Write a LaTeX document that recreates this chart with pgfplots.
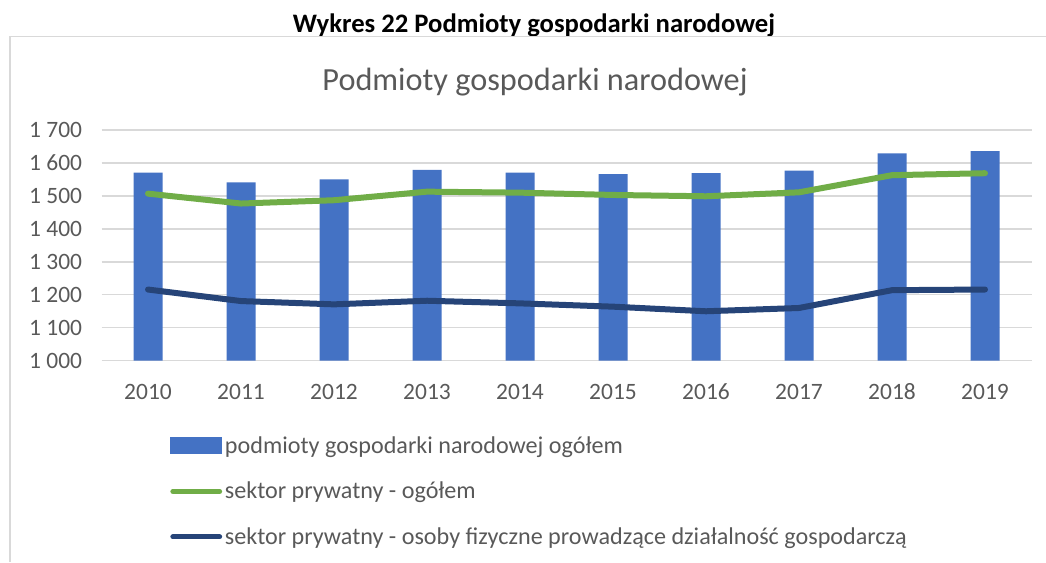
\documentclass[border=0pt]{standalone}
\usepackage{pgfplots}
\pgfplotsset{compat=1.18}
\usepackage{fontspec}
\setmainfont{Carlito}
\definecolor{barblue}{HTML}{4472C4}
\definecolor{lgreen}{HTML}{70AD47}
\definecolor{dblue}{HTML}{264478}
\definecolor{txt}{HTML}{595959}
\definecolor{gridc}{HTML}{D9D9D9}
\begin{document}
\begin{tikzpicture}
\useasboundingbox (0,0) rectangle (784.5pt,421.5pt);
\node[anchor=base, inner sep=0pt, font=\bfseries\fontsize{20pt}{22pt}\selectfont] at (400.5pt,396.75pt) {Wykres 22 Podmioty gospodarki narodowej};
\draw[gridc, line width=1pt] (7.5pt,0pt) -- (7.5pt,394.2pt) -- (790pt,394.2pt);
\node[text=txt, font=\fontsize{24.2pt}{28pt}\selectfont] at (401.25pt,360pt) {Podmioty gospodarki narodowej};
\begin{axis}[
  at={(76.125pt,150.975pt)}, anchor=south west,
  scale only axis, width=697.5pt, height=173pt,
  xmin=-0.5, xmax=9.5, ymin=1000, ymax=1700,
  axis line style={draw=none},
  major tick length=0pt,
  xtick={0,...,9},
  xticklabels={2010,2011,2012,2013,2014,2015,2016,2017,2018,2019},
  ytick={1000,1100,...,1700},
  yticklabels={1 000,1 100,1 200,1 300,1 400,1 500,1 600,1 700},
  ymajorgrids, grid style={gridc, line width=1pt},
  tick label style={text=txt, font=\fontsize{17.6pt}{20pt}\selectfont},
  yticklabel style={xshift=-11pt},
  xticklabel style={anchor=base, yshift=-28.9pt},
  legend style={at={(0.0737,-0.322)}, anchor=north west, draw=none, fill=none,
    inner sep=0pt, row sep=18pt, font=\fontsize{18.1pt}{20pt}\selectfont,
    text=txt, nodes={inner xsep=2pt, inner ysep=1pt}},
  legend cell align=left,
]
\addplot[ybar, bar width=21.75pt, fill=barblue, draw=none,
  legend image code/.code={\fill[barblue] (0pt,-6.4pt) rectangle (39pt,6.4pt);}]
  coordinates {(0,1571) (1,1541) (2,1550) (3,1579) (4,1571) (5,1566) (6,1569) (7,1577) (8,1629) (9,1636)};
\addlegendentry{podmioty gospodarki narodowej ogółem}
\addplot[lgreen, line width=4.5pt, line cap=round, line join=round, mark=none,
  legend image code/.code={\draw[lgreen, line width=3.75pt, line cap=round] (1.9pt,0pt) -- (37pt,0pt);}]
  coordinates {(0,1507) (1,1477) (2,1487) (3,1513) (4,1510) (5,1503) (6,1499) (7,1511) (8,1563) (9,1569)};
\addlegendentry{sektor prywatny - ogółem}
\addplot[dblue, line width=4.5pt, line cap=round, line join=round, mark=none,
  legend image code/.code={\draw[dblue, line width=3.75pt, line cap=round] (1.9pt,0pt) -- (37pt,0pt);}]
  coordinates {(0,1216) (1,1181) (2,1171) (3,1182) (4,1174) (5,1164) (6,1150) (7,1160) (8,1214) (9,1216)};
\addlegendentry{sektor prywatny - osoby fizyczne prowadzące działalność gospodarczą}
\end{axis}
\end{tikzpicture}
\end{document}
